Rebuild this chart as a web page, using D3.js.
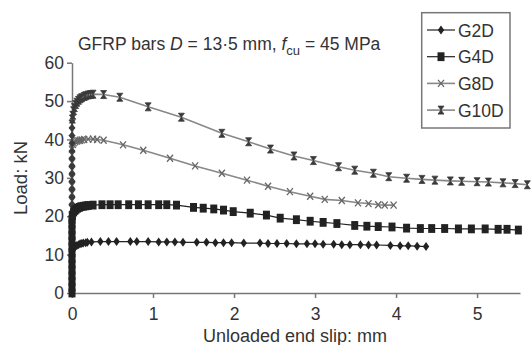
<!DOCTYPE html>
<html><head><meta charset="utf-8">
<script src="https://cdn.jsdelivr.net/npm/d3@7"></script>
<style>
html,body{margin:0;padding:0;background:#fff;}
svg text{font-family:"Liberation Sans",Arial,sans-serif;fill:#333;}
</style></head>
<body><svg id="c" width="531" height="345"></svg>
<script>
// ---- data: [slip (mm), load (kN)] ----
const seriesNames = ["G2D","G4D","G8D","G10D"];
const G2D = [[0,0],[0,1],[0,2],[0,3],[0,4],[0,5],[0,6],[0,7],[0,8],[0,9],[0,10],[0,10.7],[0.01,11.3],[0.02,11.7],[0.03,11.9],[0.045,12.2],[0.06,12.4],[0.08,12.6],[0.1,12.8],[0.12,12.9],[0.14,13.0],[0.17,13.1],[0.19,13.2],
  [0.24,13.3],[0.35,13.4],[0.45,13.4],[0.55,13.4],[0.72,13.4],[0.80,13.4],[0.94,13.4],[1.07,13.3],[1.17,13.3],[1.27,13.3],[1.37,13.2],[1.54,13.2],[1.66,13.2],[1.77,13.1],[1.87,13.1],[1.97,13.1],
  [2.12,13.0],[2.32,13.0],[2.42,12.9],[2.53,12.9],[2.65,12.9],[2.77,12.8],[2.90,12.8],[3.00,12.8],[3.10,12.7],[3.23,12.7],[3.33,12.6],[3.43,12.6],[3.56,12.6],[3.66,12.5],[3.76,12.5],[3.93,12.4],[4.05,12.3],[4.15,12.3],[4.26,12.2],[4.37,12.1]];
const G4D = [[0,0],[0,1.5],[0,3],[0,4.5],[0,6],[0,7.5],[0,9],[0,10.5],[0,12],[0,13.5],[0,15],[0,16.5],[0,18],[0,19.2],[0.005,20.2],[0.02,21.1],[0.035,21.5],[0.05,21.8],[0.07,22.1],[0.09,22.3],[0.11,22.5],[0.14,22.6],[0.17,22.7],[0.2,22.8],
  [0.26,22.9],[0.37,23.0],[0.47,23.0],[0.57,23.0],[0.70,23.0],[0.82,23.0],[0.94,23.0],[1.07,23.0],[1.17,23.0],[1.29,22.9],[1.50,22.3],[1.62,22.1],[1.75,21.9],[1.87,21.6],[1.99,21.2],
  [2.20,20.8],[2.40,20.3],[2.57,19.5],[2.77,19.1],[2.94,18.7],[3.10,18.4],[3.27,18.1],[3.49,17.6],[3.64,17.4],[3.78,17.3],[3.95,17.2],[4.13,16.9],[4.30,16.8],[4.44,16.8],[4.60,16.8],[4.77,16.7],[4.93,16.7],[5.10,16.7],[5.26,16.6],[5.37,16.6],[5.51,16.4]];
const G8D = [[0,20],[0,22],[0,24],[0,26],[0,28],[0,30],[0,32],[0,34],[0,36],[0,37.5],[0.01,38.7],[0.02,39.1],[0.04,39.4],[0.06,39.6],[0.08,39.7],[0.1,39.8],[0.12,39.9],[0.15,40.0],[0.2,40.1],[0.26,40.1],[0.31,40.0],
  [0.39,39.8],[0.63,38.6],[0.88,37.2],[1.21,35.1],[1.52,33.1],[1.85,31.2],[2.16,29.4],[2.42,27.8],[2.69,26.4],[2.94,25.2],[3.12,24.4],[3.33,24.1],[3.53,23.5],[3.66,23.3],[3.78,23.0],[3.86,22.9],[3.97,22.9]];
const G10D = [[0,22],[0,24],[0,26],[0,28],[0,30],[0,32],[0,34],[0,36],[0,38],[0,40],[0,42],[0,44],[0.005,45.3],[0.01,46.3],[0.02,47.5],[0.03,48.3],[0.045,49.1],[0.06,49.7],[0.08,50.2],[0.1,50.6],[0.12,50.9],[0.15,51.2],[0.17,51.4],[0.2,51.6],[0.23,51.7],
  [0.26,51.8],[0.39,51.7],[0.59,51.0],[0.94,48.5],[1.35,45.8],[1.85,41.6],[2.18,39.4],[2.45,37.5],[2.74,35.7],[2.98,34.5],[3.29,32.9],[3.49,32.0],[3.72,31.2],[3.91,30.3],[4.13,29.9],
  [4.32,29.6],[4.48,29.4],[4.67,29.2],[4.81,29.1],[5.00,29.0],[5.14,28.9],[5.32,28.7],[5.47,28.5],[5.62,28.2]];
const xTicks = [0,1,2,3,4,5];
const yTicks = [0,10,20,30,40,50,60];

// ---- layout ----
const svg = d3.select("#c");
const x = d3.scaleLinear().domain([0,5.53]).range([72,520]);
const y = d3.scaleLinear().domain([0,60]).range([293,62.7]);
const axisCol = "#777";

const gx = svg.append("g").attr("transform","translate(0,293)")
  .call(d3.axisBottom(x).tickValues(xTicks).tickFormat(d3.format("d")).tickSize(5).tickPadding(10).tickSizeOuter(0));
const gy = svg.append("g").attr("transform","translate(72,0)")
  .call(d3.axisLeft(y).tickValues(yTicks).tickSize(5).tickPadding(3).tickSizeOuter(0));
[gx,gy].forEach(g=>{
  g.selectAll("path,line").attr("stroke",axisCol).attr("stroke-width",1.5);
  g.selectAll("text").attr("font-size",17.5).attr("fill","#333").style("font-family","Liberation Sans, Arial, sans-serif");
});

// marker shapes
function marker(sel, type){
  if(type==="diamond"){
    sel.append("path").attr("d","M0,-4.5L3.2,0L0,4.5L-3.2,0Z").attr("fill","#222");
  } else if(type==="square"){
    sel.append("rect").attr("x",-3.5).attr("y",-4.4).attr("width",7).attr("height",8.8).attr("fill","#222");
  } else if(type==="x"){
    sel.append("path").attr("d","M-3,-3.5L3,3.5M-3,3.5L3,-3.5").attr("stroke","#666").attr("stroke-width",1.3).attr("fill","none");
  } else if(type==="hour"){
    sel.append("path").attr("d","M-3,-4L3,-4L-3,4L3,4Z").attr("fill","#3a3a3a").attr("stroke","#3a3a3a").attr("stroke-width",0.8);
  }
}

const series = [
  {name:"G2D", data:G2D, line:"#222", lw:1.2, m:"diamond"},
  {name:"G4D", data:G4D, line:"#222", lw:1.2, m:"square"},
  {name:"G8D", data:G8D, line:"#888", lw:1.6, m:"x"},
  {name:"G10D", data:G10D, line:"#888", lw:1.6, m:"hour"}
];
const lineGen = d3.line().x(d=>x(d[0])).y(d=>y(d[1]));
const drawOrder = [2,3,1,0];
drawOrder.forEach(i=>{
  const s = series[i];
  svg.append("path").datum(s.data).attr("d",lineGen).attr("fill","none").attr("stroke",s.line).attr("stroke-width",s.lw);
  svg.append("g").selectAll("g").data(s.data).join("g")
    .attr("transform",d=>`translate(${x(d[0])},${y(d[1])})`)
    .each(function(){ marker(d3.select(this), s.m); });
});

// title
const t = svg.append("text").attr("x",78).attr("y",50).attr("font-size",17.5).attr("fill","#333");
t.append("tspan").text("GFRP bars ");
t.append("tspan").attr("font-style","italic").text("D");
t.append("tspan").text(" = 13·5 mm, ");
t.append("tspan").attr("font-style","italic").text("f");
t.append("tspan").attr("font-size",13).attr("dy",5).text("cu");
t.append("tspan").attr("dy",-5).text(" = 45 MPa");

// axis titles
svg.append("text").attr("x",295).attr("y",342).attr("text-anchor","middle").attr("font-size",18).text("Unloaded end slip: mm");
svg.append("text").attr("transform","translate(27,178) rotate(-90)").attr("text-anchor","middle").attr("font-size",18.5).text("Load: kN");

// legend
const lg = svg.append("g");
lg.append("rect").attr("x",421.7).attr("y",12.7).attr("width",88.3).attr("height",115.3).attr("fill","#fff").attr("stroke",axisCol).attr("stroke-width",1.5);
series.forEach((s,i)=>{
  const yy = 30 + i*26.7;
  lg.append("line").attr("x1",427).attr("x2",455).attr("y1",yy).attr("y2",yy).attr("stroke",s.line).attr("stroke-width",s.lw);
  marker(lg.append("g").attr("transform",`translate(441,${yy})`), s.m);
  lg.append("text").attr("x",458).attr("y",yy+6.5).attr("font-size",17.5).text(s.name);
});
</script></body></html>
